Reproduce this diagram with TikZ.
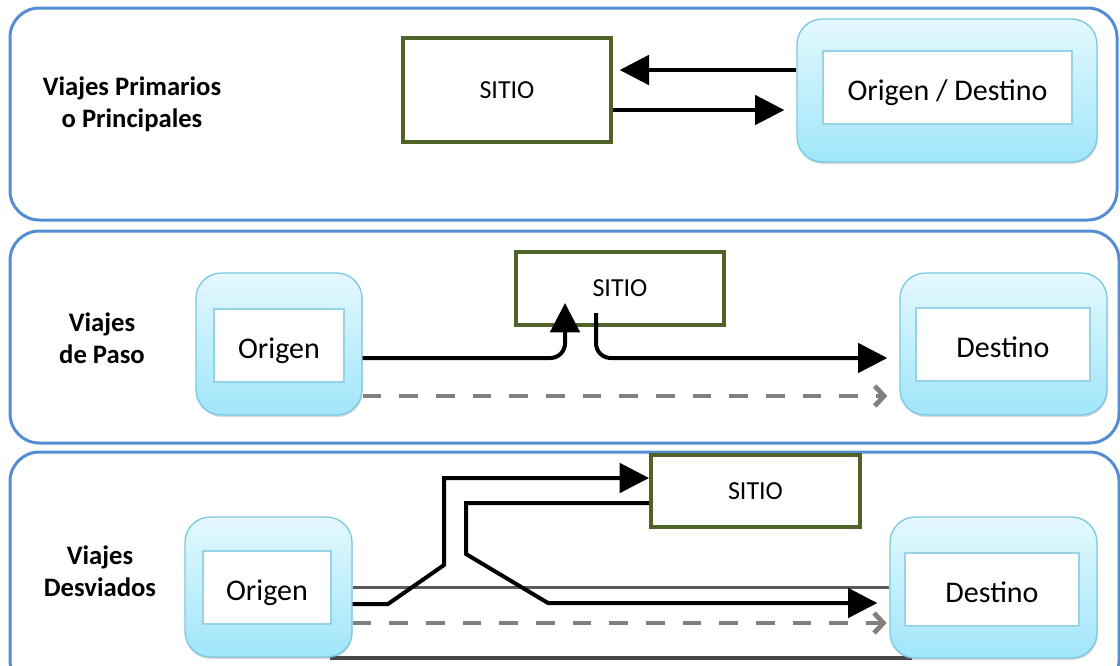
\documentclass[tikz,border=0pt]{standalone}
\usepackage{fontspec}
\setmainfont{Carlito}
\usetikzlibrary{arrows.meta,shadows,backgrounds}
\definecolor{panelblue}{RGB}{84,141,212}
\definecolor{sitioolive}{RGB}{79,98,40}
\definecolor{cyantop}{RGB}{228,248,253}
\definecolor{cyanbot}{RGB}{160,230,250}
\definecolor{boxedge}{RGB}{125,200,225}
\definecolor{inneredge}{RGB}{150,210,232}
\definecolor{dashgray}{RGB}{128,128,128}
\definecolor{roadgray}{RGB}{90,90,90}
\definecolor{roaddark}{RGB}{70,70,70}
\tikzset{
  panel/.style={draw=panelblue, line width=2.25pt, rounded corners=22pt},
  sitio/.style={draw=sitioolive, line width=3pt, fill=white, inner sep=0pt,
    font=\fontsize{19.5}{23}\selectfont},
  outerbox/.style={draw=boxedge, line width=1pt, rounded corners=19pt,
    top color=cyantop, bottom color=cyanbot,
    drop shadow={shadow xshift=0.5pt, shadow yshift=-1.5pt, opacity=0.3}},
  innerbox/.style={draw=inneredge, line width=1.2pt, fill=white, inner sep=0pt,
    text height=19pt, text depth=0pt,
    font=\fontsize{22.5}{27}\selectfont},
  lbl/.style={font=\bfseries\fontsize{20}{24}\selectfont, align=center},
  arr/.style={line width=3pt, -{Triangle[length=22pt,width=22pt]}},
  dasharr/.style={draw=dashgray, line width=3.6pt, dash pattern=on 14pt off 13.5pt,
    -{Straight Barb[length=7pt,width=15pt]}},
  road/.style={draw=roadgray, line width=2.25pt},
  roadb/.style={draw=roaddark, line width=3pt}
}
\begin{document}
\begin{tikzpicture}[x=0.75pt,y=-0.75pt]
\useasboundingbox (0,0) rectangle (1120,665);
\clip (0,0) rectangle (1120,665);

% panels
\draw[panel] (10,8) rectangle (1117,220);
\draw[panel] (10,231) rectangle (1119,443);
\draw[panel] (10,452) rectangle (1119,690);

% ---------- panel 1
\node[lbl] (l1) at (132,104) {Viajes Primarios\\o Principales};
\node[sitio, minimum width=156pt, minimum height=78pt] (s1) at (507,90) {SITIO};
\node[outerbox, minimum width=225pt, minimum height=107.25pt] (od) at (947,90.5) {};
\node[innerbox, minimum width=186.75pt, minimum height=54.75pt] (odi) at (947.5,87.5) {Origen / Destino};
\draw[arr, shorten >=5pt] (od.west |- 0,70) -- (s1.east |- 0,70);
\draw[arr, shorten >=9pt] (s1.east |- 0,110) -- (od.west |- 0,110);

% ---------- panel 2
\node[lbl] (l2) at (102,338) {Viajes\\de Paso};
\node[outerbox, minimum width=124.5pt, minimum height=106.5pt] (o2) at (279,344) {};
\node[innerbox, minimum width=97.5pt, minimum height=54.75pt] (o2i) at (279,345.5) {Origen};
\node[sitio, minimum width=156pt, minimum height=54.75pt] (s2) at (620,288.5) {SITIO};
\node[outerbox, minimum width=155.25pt, minimum height=106.5pt] (d2) at (1003.5,344) {};
\node[innerbox, minimum width=130.5pt, minimum height=54.75pt] (d2i) at (1003,344.5) {Destino};
\coordinate (t2) at (565,303);
\coordinate (b2) at (596,313);
\draw[arr, rounded corners=11pt] (o2.east |- 0,358) -- (565,358) -- (t2);
\draw[arr, rounded corners=11pt, shorten >=9pt] (b2) -- (596,358) -- (d2.west |- 0,358);
\draw[dasharr, shorten >=9pt] (o2.east |- 0,396) -- (d2.west |- 0,396);

% ---------- panel 3
\node[lbl] (l3) at (100,571) {Viajes\\Desviados};
\node[outerbox, minimum width=125.25pt, minimum height=105pt] (o3) at (268.5,587) {};
\node[innerbox, minimum width=96pt, minimum height=54.75pt] (o3i) at (267,587.5) {Origen};
\node[sitio, minimum width=156.75pt, minimum height=54pt] (s3) at (755.5,491) {SITIO};
\node[outerbox, minimum width=155.25pt, minimum height=105.75pt] (d3) at (993.5,587.5) {};
\node[innerbox, minimum width=130.5pt, minimum height=54.75pt] (d3i) at (992,589.5) {Destino};
\begin{scope}[on background layer]
  \draw[road] (o3.east |- 0,587) -- (d3.west |- 0,587);
  \draw[roadb] (330,658) -- (912,658);
\end{scope}
\draw[arr] (o3.east |- 0,604) -- (388,604) -- (444,565) -- (444,478) -- (s3.west |- 0,478);
\draw[arr, shorten >=9pt] (s3.west |- 0,503) -- (466,503) -- (466,554) -- (548,603) -- (d3.west |- 0,603);
\draw[dasharr, shorten >=2pt] (o3.east |- 0,623) -- (d3.west |- 0,623);
\end{tikzpicture}
\end{document}
